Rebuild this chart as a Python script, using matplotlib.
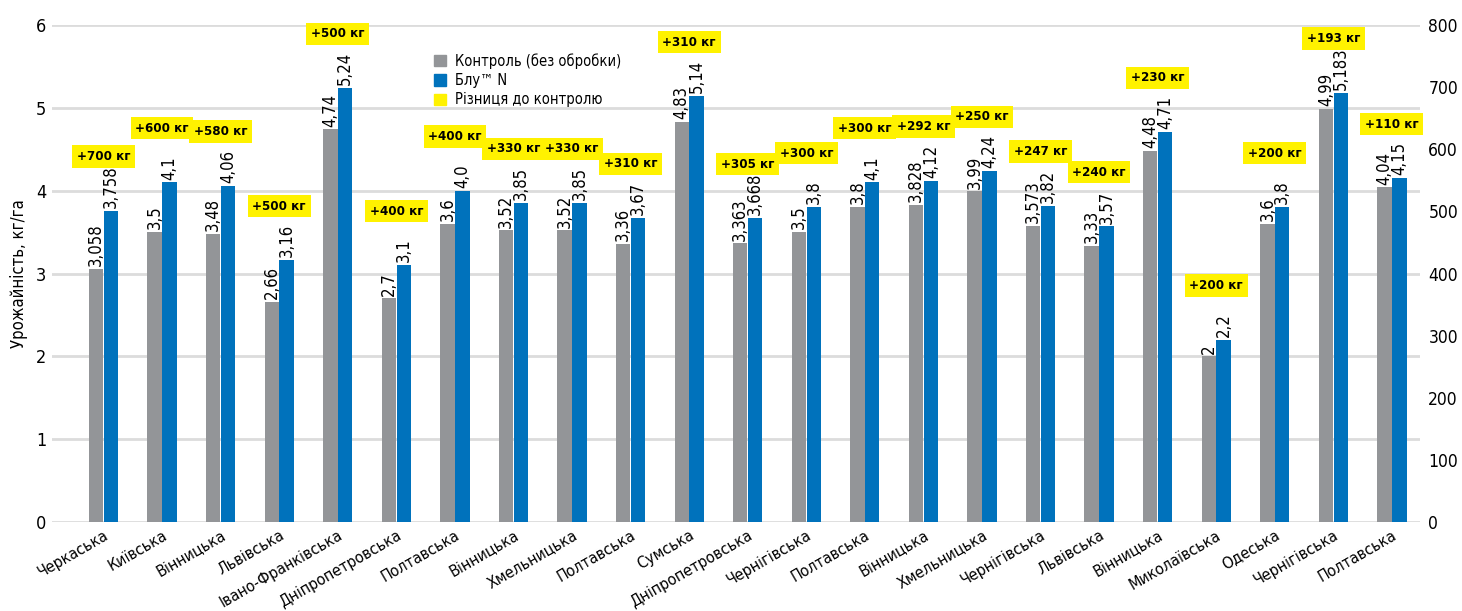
import matplotlib.pyplot as plt
import numpy as np
from matplotlib.patches import Patch

regions = ["Черкаська", "Київська", "Вінницька", "Львівська", "Івано-Франківська",
           "Дніпропетровська", "Полтавська", "Вінницька", "Хмельницька", "Полтавська",
           "Сумська", "Дніпропетровська", "Чернігівська", "Полтавська", "Вінницька",
           "Хмельницька", "Чернігівська", "Львівська", "Вінницька", "Миколаївська",
           "Одеська", "Чернігівська", "Полтавська"]
control = [3.058, 3.5, 3.48, 2.66, 4.74, 2.7, 3.6, 3.52, 3.52, 3.36, 4.83, 3.363,
           3.5, 3.8, 3.828, 3.99, 3.573, 3.33, 4.48, 2, 3.6, 4.99, 4.04]
blu_n = [3.758, 4.1, 4.06, 3.16, 5.24, 3.1, 4.0, 3.85, 3.85, 3.67, 5.14, 3.668,
         3.8, 4.1, 4.12, 4.24, 3.82, 3.57, 4.71, 2.2, 3.8, 5.183, 4.15]
diff_kg = [700, 600, 580, 500, 500, 400, 400, 330, 330, 310, 310, 305,
           300, 300, 292, 250, 247, 240, 230, 200, 200, 193, 110]

GREY = "#939598"
BLUE = "#0072bc"
YELLOW = "#fff200"

plt.rcParams['font.family'] = ['DejaVu Sans']
plt.rcParams['font.stretch'] = 'condensed'


def fmt(v):
    return str(v).replace('.', ',')


fig = plt.figure(figsize=(14.62, 6.11), dpi=100)
ax = fig.add_axes([52 / 1462, 1 - 522 / 611, (1420 - 52) / 1462, (522 - 25) / 611])

x = np.arange(len(regions))
w = 0.245
ax.bar(x - 0.127, control, w, color=GREY, zorder=3)
ax.bar(x + 0.127, blu_n, w, color=BLUE, zorder=3)

for i in range(len(regions)):
    ax.annotate(fmt(control[i]), (x[i] - 0.127, control[i]), xytext=(0, 2),
                textcoords="offset points", rotation=90, ha="center", va="bottom",
                fontsize=12, zorder=4)
    ax.annotate(fmt(blu_n[i]), (x[i] + 0.127, blu_n[i]), xytext=(0, 2),
                textcoords="offset points", rotation=90, ha="center", va="bottom",
                fontsize=12, zorder=4)
    ax.annotate(f"+{diff_kg[i]} кг", (x[i], blu_n[i]), xytext=(0, 39),
                textcoords="offset points", ha="center", va="center",
                fontsize=9.5, fontweight="bold", zorder=5,
                bbox=dict(boxstyle="square,pad=0.35", fc=YELLOW, ec="none"))

ax.set_xlim(-0.88, len(regions) - 1 + 0.48)
ax.set_ylim(0, 6)
ax.set_yticks(range(0, 7))
ax.grid(axis="y", color="#dcdcdc", linewidth=2, zorder=0)
ax.set_xticks(x)
ax.set_xticklabels(regions, rotation=30, ha="right", rotation_mode="anchor")
ax.tick_params(axis="y", length=0, labelsize=13, pad=4)
ax.tick_params(axis="x", length=0, pad=4, labelsize=11.5)
ax.set_ylabel("Урожайність, кг/га", fontsize=12, labelpad=6)
for s in ax.spines.values():
    s.set_visible(False)

ax2 = ax.twinx()
ax2.set_ylim(0, 800)
ax2.set_yticks(range(0, 801, 100))
ax2.tick_params(axis="y", length=0, labelsize=12.5, pad=6)
for s in ax2.spines.values():
    s.set_visible(False)

handles = [Patch(color=GREY), Patch(color=BLUE), Patch(color=YELLOW)]
ax.legend(handles, ["Контроль (без обробки)", "Блу™ N", "Різниця до контролю"],
          loc="upper left", bbox_to_anchor=(0.27, 0.97), frameon=False,
          fontsize=10.5, handlelength=0.8, handleheight=0.8, handletextpad=0.6,
          labelspacing=0.3)

fig.savefig("out.png", dpi=100)
